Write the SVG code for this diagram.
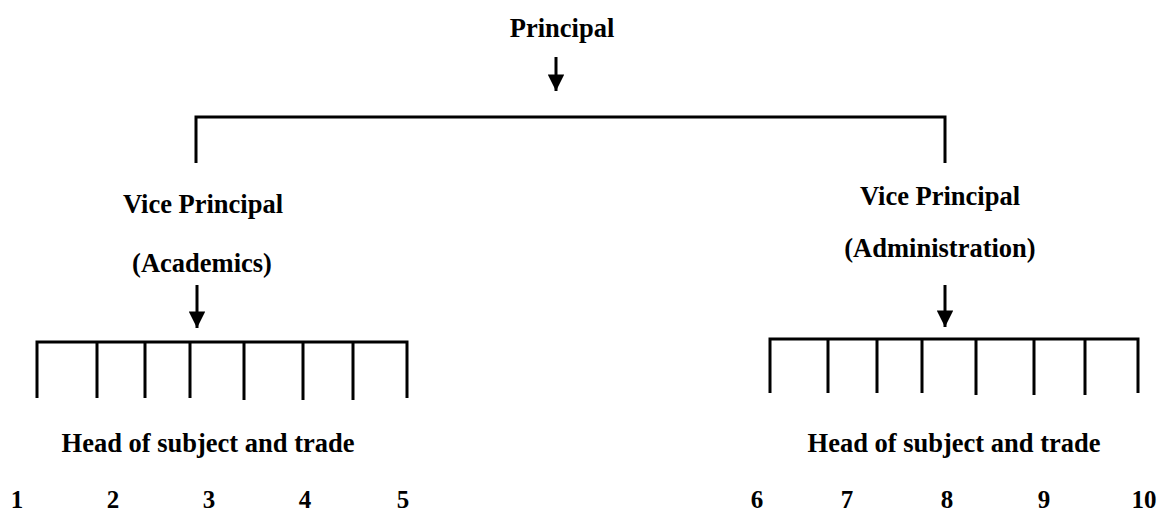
<svg xmlns="http://www.w3.org/2000/svg" width="1165" height="517" viewBox="0 0 1165 517">
<style>
text{font-family:"Liberation Serif","Times New Roman",serif;font-weight:bold;fill:#000;text-anchor:middle}
.t{font-size:26.5px}
.n{font-size:25px}
.ln{stroke:#000;stroke-width:3;fill:none}
</style>
<defs>
<marker id="ah" viewBox="0 0 10 10" refX="10" refY="5" markerWidth="6" markerHeight="5.5" orient="auto" markerUnits="strokeWidth">
<path d="M0,0 L10,5 L0,10 Z" fill="#000"/>
</marker>
</defs>
<rect width="1165" height="517" fill="#fff"/>
<g id="principal"><text class="t" x="562" y="37">Principal</text></g>
<g id="vp-academics">
<text class="t" x="203" y="213">Vice Principal</text>
<text class="t" x="202" y="272">(Academics)</text>
</g>
<g id="vp-admin">
<text class="t" x="940" y="205">Vice Principal</text>
<text class="t" x="940" y="257">(Administration)</text>
</g>
<g id="heads-left">
<text class="t" x="208" y="452">Head of subject and trade</text>
<text class="n" x="17" y="508">1</text>
<text class="n" x="113" y="508">2</text>
<text class="n" x="209" y="508">3</text>
<text class="n" x="305" y="508">4</text>
<text class="n" x="403" y="508">5</text>
</g>
<g id="heads-right">
<text class="t" x="954" y="452">Head of subject and trade</text>
<text class="n" x="757" y="508">6</text>
<text class="n" x="847" y="508">7</text>
<text class="n" x="947" y="508">8</text>
<text class="n" x="1044" y="508">9</text>
<text class="n" x="1144" y="508">10</text>
</g>
<g id="connectors">
<line class="ln" x1="556" y1="57" x2="556" y2="91" marker-end="url(#ah)"/>
<path class="ln" d="M196,163 V117 H945 V163"/>
<line class="ln" x1="197" y1="285" x2="197" y2="328" marker-end="url(#ah)"/>
<line class="ln" x1="945" y1="285" x2="945" y2="327" marker-end="url(#ah)"/>
<path class="ln" d="M37,398 V342 H407 V398 M97,342 V398 M145,342 V398 M190,342 V398 M244,342 V400 M303,342 V400 M353,342 V400"/>
<path class="ln" d="M770,393 V339 H1138 V393 M828,339 V393 M877,339 V393 M922,339 V393 M976,339 V395 M1034,339 V395 M1085,339 V395"/>
</g>
</svg>
